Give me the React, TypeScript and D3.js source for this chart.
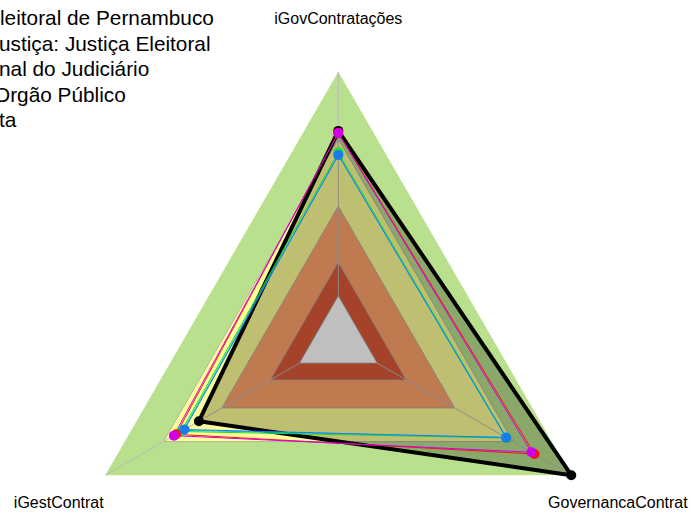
import React from "react";
import * as d3 from "d3";

const axisLabels = ["iGovContratações", "iGestContrat", "GovernancaContrat"];

// capacity bands (value thresholds, outer to inner)
const bandLevels = [1.0, 0.7, 0.4, 0.15, 0.0];
const bandColors = ["#B9E08C", "#FFFF99", "#FFA36B", "#DC5839", "#FFFFFF"];

// series (values on 0..1 for [iGovContratações, iGestContrat, GovernancaContrat])
const seriesNames = ["TRE-PE", "Verde", "Ciano", "Vermelho", "Azul", "Magenta"];
const seriesColors = ["#000000", "#22DD22", "#00CCDD", "#FF1010", "#1A7AE8", "#D000E8"];
const seriesWidths = [4, 1, 1, 1, 1, 1];
const seriesFills = ["rgba(0,0,0,0.25)", "none", "none", "none", "none", "none"];
const blackValues = [0.736, 0.518, 1.0];
const greenValues = [0.64, 0.61, 0.668];
const cyanValues = [0.63, 0.6, 0.662];
const redValues = [0.728, 0.635, 0.811];
const blueValues = [0.628, 0.592, 0.665];
const magentaValues = [0.726, 0.647, 0.795];
const seriesValues = [blackValues, greenValues, cyanValues, redValues, blueValues, magentaValues];

const legendLabels = [
  "leitoral de Pernambuco",
  "ustiça: Justiça Eleitoral",
  "nal do Judiciário",
  "Orgão Público",
  "ta",
];
const legendX = [0, -1, -1, -6, -1];

const W = 691;
const H = 513;
const cx = 338.3;
const cy = 340.7;
const R = 269;

export default function App() {
  const n = axisLabels.length;
  const angle = (i: number) => Math.PI / 2 + (i * 2 * Math.PI) / n;
  const rScale = d3.scaleLinear().domain([0, 1]).range([R / 6, R]);
  const pt = (i: number, r: number): [number, number] => [
    cx + r * Math.cos(angle(i)),
    cy - r * Math.sin(angle(i)),
  ];
  const line = d3.line().curve(d3.curveLinearClosed);
  const polyAt = (vals: number[]) => line(vals.map((v, i) => pt(i, rScale(v))));

  return (
    <svg
      width={W}
      height={H}
      style={{ position: "absolute", left: 0, top: 0, fontFamily: "'Liberation Sans', Arial, sans-serif" }}
    >
      <rect x={0} y={0} width={W} height={H} fill="#FFFFFF" />
      {bandLevels.map((lv, k) => (
        <path
          key={"b" + k}
          d={polyAt(axisLabels.map(() => lv)) || ""}
          fill={bandColors[k]}
          stroke={k === 0 ? "none" : "#A8A8A8"}
          strokeWidth={0.8}
        />
      ))}
      {axisLabels.map((_, i) => {
        const [x1, y1] = pt(i, rScale(0));
        const [x2, y2] = pt(i, rScale(1));
        return <line key={"a" + i} x1={x1} y1={y1} x2={x2} y2={y2} stroke="#BBBBBB" strokeWidth={1} />;
      })}
      {seriesValues.map((vals, s) => (
        <path
          key={"s" + s}
          d={polyAt(vals) || ""}
          fill={seriesFills[s]}
          stroke={seriesColors[s]}
          strokeWidth={seriesWidths[s]}
          strokeLinejoin="round"
        />
      ))}
      {seriesValues.map((vals, s) =>
        vals.map((v, i) => {
          const [x, y] = pt(i, rScale(v));
          return <circle key={"p" + s + "-" + i} cx={x} cy={y} r={5} fill={seriesColors[s]} />;
        })
      )}
      {axisLabels.map((lab, i) => {
        const [x, y] = pt(i, R * 1.2);
        return (
          <text key={"l" + i} x={x} y={y + 5.6} textAnchor="middle" fontSize={16} fill="#000">
            {lab}
          </text>
        );
      })}
      {legendLabels.map((lab, k) => (
        <text key={"g" + k} x={legendX[k]} y={25.3 + k * 25.5} fontSize={20.8} fill="#000">
          {lab}
        </text>
      ))}
    </svg>
  );
}
